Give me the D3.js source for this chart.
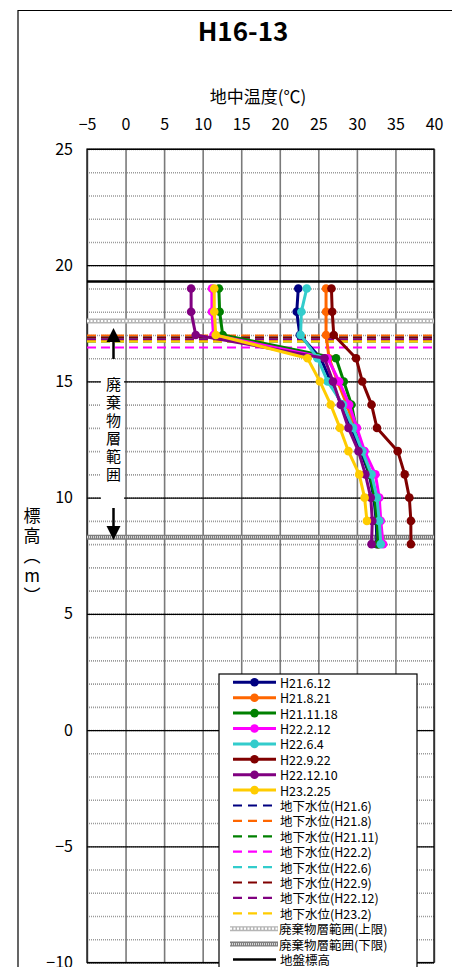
<!DOCTYPE html>
<html>
<head>
<meta charset="utf-8">
<script src="https://cdn.jsdelivr.net/npm/d3@7"></script>
<style>
body{margin:0;background:#fff;}
svg text{font-family:"Noto Sans CJK JP","Noto Sans",sans-serif;fill:#000;}
.vert{writing-mode:vertical-rl;text-orientation:upright;}
</style>
</head>
<body>
<div id="chart"></div>
<script>
// elevation (m) of each measuring point
var depths=[19,18,17,16,15,14,13,12,11,10,9,8];
var seriesNames=["H21.6.12","H21.8.21","H21.11.18","H22.2.12","H22.6.4","H22.9.22","H22.12.10","H23.2.25"];
var seriesColors=["#000080","#ff6600","#008000","#ff00ff","#33cccc","#800000","#800080","#ffcc00"];
// ground temperature per date (deg C), same order as depths
var t_H21_6_12=[22.4,22.2,22.6,25.3,26.6,28.0,29.3,30.5,31.6,32.2,32.5,32.6];
var t_H21_8_21=[26.0,26.0,26.0,26.4,27.5,28.7,29.7,30.8,31.8,32.4,32.7,32.8];
var t_H21_11_18=[12.1,12.2,12.6,27.3,28.3,29.3,29.9,30.7,31.7,32.3,32.6,32.8];
var t_H22_2_12=[11.2,11.2,11.4,26.2,27.7,29.0,30.0,31.0,32.4,32.9,33.1,33.4];
var t_H22_6_4=[23.5,22.8,22.7,24.9,26.2,28.2,29.5,30.7,31.9,32.6,32.9,33.1];
var t_H22_9_22=[26.7,26.8,27.0,29.9,30.7,31.9,32.6,35.3,36.2,36.8,37.0,37.0];
var t_H22_12_10=[8.5,8.5,9.1,25.8,26.9,27.9,28.9,30.2,31.1,31.8,32.0,31.9];
var t_H23_2_25=[11.5,11.5,11.7,23.6,25.2,26.6,27.8,28.9,30.3,31.0,31.3];
var seriesTemps=[t_H21_6_12,t_H21_8_21,t_H21_11_18,t_H22_2_12,t_H22_6_4,t_H22_9_22,t_H22_12_10,t_H23_2_25];

// groundwater levels (m)
var gwNames=["地下水位(H21.6)","地下水位(H21.8)","地下水位(H21.11)","地下水位(H22.2)","地下水位(H22.6)","地下水位(H22.9)","地下水位(H22.12)","地下水位(H23.2)"];
var gwLevels=[16.80,16.97,16.72,16.46,16.89,16.89,16.80,16.72];

var wasteTop=17.6, wasteBottom=8.3, groundLevel=19.3;
var wasteNames=["廃棄物層範囲(上限)","廃棄物層範囲(下限)"];
var groundName="地盤標高";

var xTicks=[-5,0,5,10,15,20,25,30,35,40];
var yTicks=[25,20,15,10,5,0,-5,-10];
var yMinor=d3.range(-10,26,1);

var W=452,H=967;
var svg=d3.select("#chart").append("svg").attr("width",W).attr("height",H);

var x=d3.scaleLinear().domain([-5,40]).range([87,434]);
var y=d3.scaleLinear().domain([-10,25]).range([962.5,149]);

// outer chart frame
svg.append("path").attr("d","M18,"+H+"V10.5H"+W).attr("fill","none").attr("stroke","#000").attr("stroke-width",1.2);

// title
svg.append("text").attr("x",243).attr("y",41).attr("text-anchor","middle")
  .style("font-size","26px").style("font-weight","bold").text("H16-13");
svg.append("text").attr("x",258).attr("y",103).attr("text-anchor","middle")
  .style("font-size","17px").text("地中温度(℃)");

// minor horizontal grid
svg.append("g").attr("transform","translate(87,0)")
  .call(d3.axisLeft(y).tickValues(yMinor).tickSize(-(434-87)).tickFormat(""))
  .call(function(g){g.select(".domain").remove();
    g.selectAll("line").attr("stroke","#9a9a9a").attr("stroke-width",1.6).attr("stroke-dasharray","1,1");});
// vertical grid
svg.append("g").attr("transform","translate(0,962.5)")
  .call(d3.axisBottom(x).tickValues(xTicks).tickSize(-(962.5-149)).tickFormat(""))
  .call(function(g){g.select(".domain").remove();
    g.selectAll("line").attr("stroke","#7a7a7a").attr("stroke-width",1.6);});
// major horizontal grid
svg.append("g").attr("transform","translate(87,0)")
  .call(d3.axisLeft(y).tickValues(yTicks).tickSize(-(434-87)).tickFormat(""))
  .call(function(g){g.select(".domain").remove();
    g.selectAll("line").attr("stroke","#000").attr("stroke-width",1.2);});

// plot border
svg.append("rect").attr("x",87).attr("y",149).attr("width",434-87).attr("height",962.5-149)
  .attr("fill","none").attr("stroke","#000").attr("stroke-width",1.2);

// axes labels
svg.append("g").attr("transform","translate(0,149)")
  .call(d3.axisTop(x).tickValues(xTicks).tickSize(0).tickPadding(19).tickFormat(function(d){return d<0?"\u2212"+(-d):d;}))
  .call(function(g){g.select(".domain").remove();
    g.selectAll("text").style("font-size","16px").style("font-family","'Noto Sans CJK JP',sans-serif");});
svg.append("g").attr("transform","translate(87,0)")
  .call(d3.axisLeft(y).tickValues(yTicks).tickSize(0).tickPadding(14).tickFormat(function(d){return d<0?"\u2212"+(-d):d;}))
  .call(function(g){g.select(".domain").remove();
    g.selectAll("text").style("font-size","16px").style("font-family","'Noto Sans CJK JP',sans-serif");});

// y axis title (vertical)
svg.append("text").attr("class","vert").attr("x",32).attr("y",557)
  .attr("text-anchor","middle").style("font-size","17px").style("letter-spacing","3px")
  .text("標高（m）");

// waste layer limit lines
function wasteLine(g,yv,base,over,dash){
  g.append("line").attr("x1",87).attr("x2",434).attr("y1",y(yv)).attr("y2",y(yv))
    .attr("stroke",base).attr("stroke-width",5);
  g.append("line").attr("x1",87).attr("x2",434).attr("y1",y(yv)).attr("y2",y(yv))
    .attr("stroke",over).attr("stroke-width",2.2).attr("stroke-dasharray",dash);
}
var lim=svg.append("g");
wasteLine(lim,wasteTop,"#b5b5b5","#fff","2,1.5");
wasteLine(lim,wasteBottom,"#7d7d7d","#d8d8d8","1,1");

// ground level
svg.append("line").attr("x1",87).attr("x2",434).attr("y1",y(groundLevel)).attr("y2",y(groundLevel))
  .attr("stroke","#000").attr("stroke-width",2.5);

// groundwater dashed lines
svg.append("g").selectAll("line").data(gwLevels).enter().append("line")
  .attr("x1",87).attr("x2",434)
  .attr("y1",function(d){return y(d);}).attr("y2",function(d){return y(d);})
  .attr("stroke",function(d,i){return seriesColors[i];})
  .attr("stroke-width",2.2).attr("stroke-dasharray","9,5");

// temperature profiles
var line=d3.line().x(function(d){return x(d.t);}).y(function(d){return y(d.z);});
seriesTemps.forEach(function(temps,i){
  var pts=temps.map(function(t,j){return {t:t,z:depths[j]};});
  var g=svg.append("g");
  g.append("path").datum(pts).attr("d",line).attr("fill","none")
    .attr("stroke",seriesColors[i]).attr("stroke-width",3).attr("stroke-linejoin","round");
  g.selectAll("circle").data(pts).enter().append("circle")
    .attr("cx",function(d){return x(d.t);}).attr("cy",function(d){return y(d.z);})
    .attr("r",4.3).attr("fill",seriesColors[i]);
});

// waste layer annotation
svg.append("rect").attr("x",101).attr("y",363).attr("width",23).attr("height",145).attr("fill","#fff");
svg.append("text").attr("class","vert").attr("x",113.5).attr("y",431)
  .attr("text-anchor","middle").style("font-size","15px").style("letter-spacing","3px")
  .text("廃棄物層範囲");
svg.append("line").attr("x1",113.5).attr("x2",113.5).attr("y1",359).attr("y2",340).attr("stroke","#000").attr("stroke-width",2.5);
svg.append("path").attr("d","M113.5,328L120.5,342L106.5,342Z").attr("fill","#000");
svg.append("line").attr("x1",113.5).attr("x2",113.5).attr("y1",508).attr("y2",527).attr("stroke","#000").attr("stroke-width",2.5);
svg.append("path").attr("d","M113.5,540L120.5,526L106.5,526Z").attr("fill","#000");

// legend
var lg=svg.append("g");
lg.append("rect").attr("x",219).attr("y",674).attr("width",198).attr("height",H-674+5)
  .attr("fill","#fff").attr("stroke","#000").attr("stroke-width",1.2);
var rowY=function(i){return 682.3+i*15.4;};
seriesNames.forEach(function(n,i){
  lg.append("line").attr("x1",233).attr("x2",276).attr("y1",rowY(i)).attr("y2",rowY(i))
    .attr("stroke",seriesColors[i]).attr("stroke-width",3);
  lg.append("circle").attr("cx",254.5).attr("cy",rowY(i)).attr("r",4.3).attr("fill",seriesColors[i]);
  lg.append("text").attr("x",280).attr("y",rowY(i)).attr("dominant-baseline","central")
    .style("font-size","12.5px").text(n);
});
gwNames.forEach(function(n,k){
  var i=k+8;
  lg.append("line").attr("x1",233).attr("x2",276).attr("y1",rowY(i)).attr("y2",rowY(i))
    .attr("stroke",seriesColors[k]).attr("stroke-width",2.2).attr("stroke-dasharray","9,6");
  lg.append("text").attr("x",280).attr("y",rowY(i)).attr("dominant-baseline","central")
    .style("font-size","12.5px").text(n);
});
wasteLine(lg,y.invert(rowY(16)),"#b5b5b5","#fff","2,1.5");
wasteLine(lg,y.invert(rowY(17)),"#7d7d7d","#d8d8d8","1,1");
lg.selectAll("line").filter(function(){return +d3.select(this).attr("x1")===87;})
  .attr("x1",230).attr("x2",278);
[wasteNames[0],wasteNames[1]].forEach(function(n,k){
  lg.append("text").attr("x",279).attr("y",rowY(16+k)).attr("dominant-baseline","central")
    .style("font-size","12.5px").text(n);
});
lg.append("line").attr("x1",233).attr("x2",276).attr("y1",rowY(18)).attr("y2",rowY(18))
  .attr("stroke","#000").attr("stroke-width",2.5);
lg.append("text").attr("x",280).attr("y",rowY(18)).attr("dominant-baseline","central")
  .style("font-size","12.5px").text(groundName);
</script>
</body>
</html>
